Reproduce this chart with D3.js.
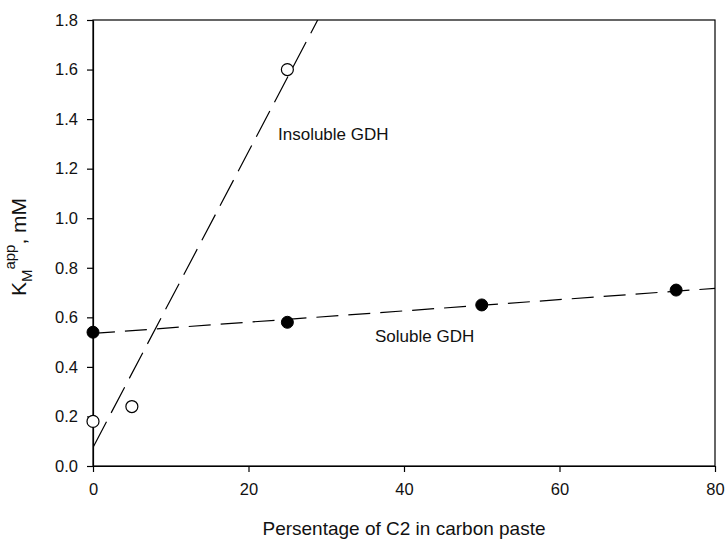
<!DOCTYPE html>
<html>
<head>
<meta charset="utf-8">
<script src="https://cdn.jsdelivr.net/npm/d3@7"></script>
<style>
  html, body { margin: 0; padding: 0; background: #fff; }
  svg { display: block; font-family: "Liberation Sans", Arial, sans-serif; }
</style>
</head>
<body>
<svg id="chart" width="727" height="539"></svg>
<script>
// C2 content (%) in the carbon paste and apparent Km (mM)
const solubleX = [0, 25, 50, 75];
const solubleY = [0.54, 0.58, 0.65, 0.71];
const insolubleX = [0, 5, 25];
const insolubleY = [0.18, 0.24, 1.60];

// end points of the dashed trend lines
const solubleFitX = [0, 80];
const solubleFitY = [0.535, 0.717];
const insolubleFitX = [0, 28.9];
const insolubleFitY = [0.075, 1.8];

const xTicks = [0, 20, 40, 60, 80];
const yTicks = [0.0, 0.2, 0.4, 0.6, 0.8, 1.0, 1.2, 1.4, 1.6, 1.8];

const svg = d3.select("#chart");
const plotLeft = 93, plotRight = 715, plotTop = 20, plotBottom = 466;

const x = d3.scaleLinear().domain([0, 80]).range([plotLeft, plotRight]);
const y = d3.scaleLinear().domain([0, 1.8]).range([plotBottom, plotTop]);

// frame
svg.append("rect")
  .attr("x", plotLeft).attr("y", plotTop)
  .attr("width", plotRight - plotLeft).attr("height", plotBottom - plotTop)
  .attr("fill", "none").attr("stroke", "#000").attr("stroke-width", 1.2);

const xAxis = svg.append("g")
  .attr("transform", `translate(0,${plotBottom})`)
  .call(d3.axisBottom(x).tickValues(xTicks).tickFormat(d3.format("d"))
    .tickSize(6).tickSizeOuter(0).tickPadding(11));
const yAxis = svg.append("g")
  .attr("transform", `translate(${plotLeft},0)`)
  .call(d3.axisLeft(y).tickValues(yTicks).tickFormat(d3.format(".1f"))
    .tickSize(6).tickSizeOuter(0).tickPadding(9));

[xAxis, yAxis].forEach(g => {
  g.select(".domain").attr("stroke", "#000").attr("stroke-width", 1.2);
  g.selectAll(".tick line").attr("stroke", "#000").attr("stroke-width", 1.2);
  g.selectAll(".tick text").attr("fill", "#111")
    .style("font-size", "16.5px").style("font-family", "Liberation Sans, Arial, sans-serif");
});

// clip region for trend lines
svg.append("clipPath").attr("id", "plot-clip")
  .append("rect").attr("x", plotLeft).attr("y", plotTop)
  .attr("width", plotRight - plotLeft).attr("height", plotBottom - plotTop);

const line = d3.line().x(d => x(d[0])).y(d => y(d[1]));
const fits = [
  { pts: d3.zip(solubleFitX, solubleFitY), dash: "22,10" },
  { pts: d3.zip(insolubleFitX, insolubleFitY), dash: "29,10" }
];
svg.append("g").attr("clip-path", "url(#plot-clip)")
  .selectAll("path").data(fits).join("path")
  .attr("d", d => line(d.pts))
  .attr("fill", "none").attr("stroke", "#000").attr("stroke-width", 1.2)
  .attr("stroke-dasharray", d => d.dash);

// markers
svg.append("g").selectAll("circle")
  .data(d3.zip(solubleX, solubleY)).join("circle")
  .attr("cx", d => x(d[0])).attr("cy", d => y(d[1])).attr("r", 6)
  .attr("fill", "#000").attr("stroke", "#000").attr("stroke-width", 1);

svg.append("g").selectAll("circle")
  .data(d3.zip(insolubleX, insolubleY)).join("circle")
  .attr("cx", d => x(d[0])).attr("cy", d => y(d[1])).attr("r", 6)
  .attr("fill", "#fff").attr("stroke", "#000").attr("stroke-width", 1.2);

// series labels
svg.append("text").attr("x", 278).attr("y", 140)
  .style("font-size", "17px").attr("fill", "#111").text("Insoluble GDH");
svg.append("text").attr("x", 375).attr("y", 342)
  .style("font-size", "17px").attr("fill", "#111").text("Soluble GDH");

// axis titles
svg.append("text")
  .attr("x", (plotLeft + plotRight) / 2).attr("y", 535)
  .attr("text-anchor", "middle")
  .style("font-size", "19px").attr("fill", "#111")
  .text("Persentage of C2 in carbon paste");

const yTitle = svg.append("text")
  .attr("transform", `translate(26,247) rotate(-90)`)
  .attr("text-anchor", "middle")
  .style("font-size", "21px").attr("fill", "#111");
yTitle.append("tspan").text("K");
yTitle.append("tspan").attr("dy", 6).style("font-size", "15px").text("M");
yTitle.append("tspan").attr("dy", -17).style("font-size", "15px").text("app");
yTitle.append("tspan").attr("dy", 11).text(", mM");
</script>
</body>
</html>
